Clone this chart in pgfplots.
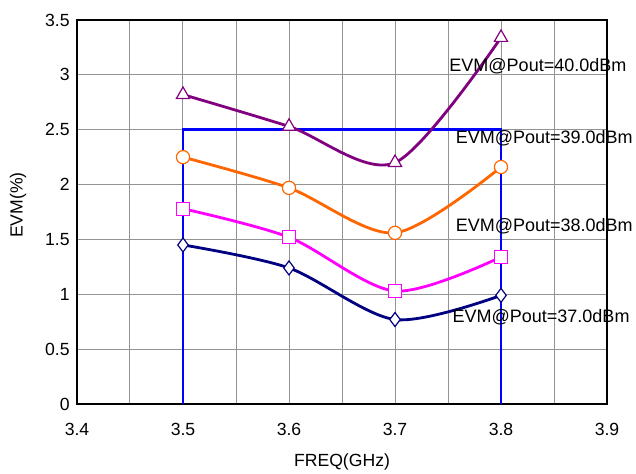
\documentclass[border=0pt]{standalone}
\usepackage{fontspec}
\setmainfont{Liberation Sans}
\usepackage{pgfplots}
\pgfplotsset{compat=1.18}
\definecolor{evmpurple}{RGB}{128,0,128}
\definecolor{evmorange}{RGB}{255,102,0}
\definecolor{evmmagenta}{RGB}{255,0,255}
\definecolor{evmnavy}{RGB}{0,0,128}
\definecolor{limblue}{RGB}{0,0,255}
\begin{document}
\begin{tikzpicture}
\begin{axis}[
    at={(0,0)}, anchor=south west,
    scale only axis,
    width=265pt, height=192pt,
    xmin=3.4, xmax=3.9, ymin=0, ymax=3.5,
    xtick={3.4,3.5,3.6,3.7,3.8,3.9},
    xticklabels={3.4,3.5,3.6,3.7,3.8,3.9},
    ytick={0,0.5,1,1.5,2,2.5,3,3.5},
    yticklabels={0,0.5,1,1.5,2,2.5,3,3.5},
    minor x tick num=1,
    grid=both,
    major grid style={gray!85, line width=0.5pt},
    minor grid style={gray!85, line width=0.5pt},
    major tick length=0pt, minor tick length=0pt,
    axis line style={black, line width=1pt},
    tick label style={font=\fontsize{8.8}{10}\selectfont},
    yticklabel style={anchor=east, inner sep=0pt, xshift=-3.5pt},
    xticklabel style={anchor=north, inner sep=0pt, yshift=-9.5pt},
    xlabel={FREQ(GHz)},
    label style={font=\fontsize{8.8}{10}\selectfont},
    xlabel style={at={(rel axis cs:0.5,0)}, anchor=center, yshift=-29pt},
    clip=false,
    /pgf/number format/assume math mode=true,
]
% limit box
\addplot[limblue, line width=1.3pt, mark=none] coordinates {(3.5,0) (3.5,2.5) (3.8,2.5) (3.8,0)};
% EVM@Pout=40.0dBm
\addplot[evmpurple, line width=1.4pt, smooth, mark=triangle*, mark size=3.8pt,
  mark options={fill=white, line width=0.6pt}] coordinates {
  (3.5,2.82) (3.6,2.53) (3.7,2.20) (3.8,3.34)};
% EVM@Pout=39.0dBm
\addplot[evmorange, line width=1.4pt, smooth, mark=*, mark size=3.3pt,
  mark options={fill=white, line width=0.6pt}] coordinates {
  (3.5,2.25) (3.6,1.97) (3.7,1.56) (3.8,2.16)};
% EVM@Pout=38.0dBm
\addplot[evmmagenta, line width=1.4pt, smooth, mark=square*, mark size=3.3pt,
  mark options={fill=white, line width=0.6pt}] coordinates {
  (3.5,1.78) (3.6,1.52) (3.7,1.03) (3.8,1.34)};
% EVM@Pout=37.0dBm
\addplot[evmnavy, line width=1.4pt, smooth, mark=diamond*, mark size=3.5pt,
  mark options={fill=white, line width=0.6pt}] coordinates {
  (3.5,1.45) (3.6,1.24) (3.7,0.77) (3.8,0.99)};
\node[rotate=90, font=\fontsize{8.8}{10}\selectfont] at (axis cs:3.3443,1.814) {EVM(\%)};
\node[anchor=west, inner sep=0pt, font=\fontsize{9}{10}\selectfont] at (axis cs:3.751,3.08) {EVM@Pout=40.0dBm};
\node[anchor=west, inner sep=0pt, font=\fontsize{9}{10}\selectfont] at (axis cs:3.757,2.42) {EVM@Pout=39.0dBm};
\node[anchor=west, inner sep=0pt, font=\fontsize{9}{10}\selectfont] at (axis cs:3.757,1.62) {EVM@Pout=38.0dBm};
\node[anchor=west, inner sep=0pt, font=\fontsize{9}{10}\selectfont] at (axis cs:3.754,0.79) {EVM@Pout=37.0dBm};
\end{axis}
\pgfresetboundingbox
\path[use as bounding box] (-38.5pt,-34.5pt) rectangle (279.5pt,202pt);
\end{tikzpicture}
\end{document}
